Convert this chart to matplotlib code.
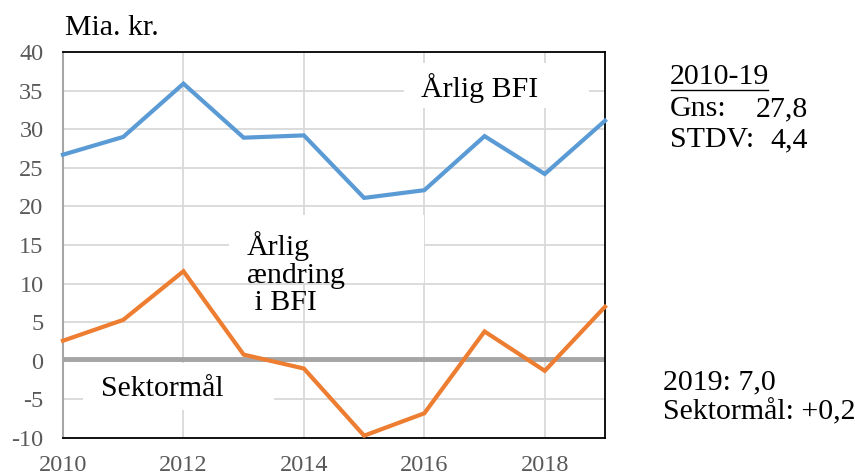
import matplotlib
matplotlib.use("Agg")
import matplotlib.pyplot as plt
from matplotlib.patches import Rectangle
from matplotlib.lines import Line2D

years = [2010, 2011, 2012, 2013, 2014, 2015, 2016, 2017, 2018, 2019]
bfi = [26.7, 29.0, 35.9, 28.9, 29.2, 21.1, 22.1, 29.1, 24.2, 31.1]
change = [2.6, 5.3, 11.6, 0.8, -1.0, -9.7, -6.8, 3.8, -1.3, 7.0]
target = 0.2
yticks = [-10, -5, 0, 5, 10, 15, 20, 25, 30, 35, 40]
xticks = [2010, 2012, 2014, 2016, 2018]

plt.rcParams['font.family'] = ['Liberation Serif', 'DejaVu Serif']
plt.rcParams['axes.unicode_minus'] = False

fig = plt.figure(figsize=(8.55, 4.76), dpi=100)
ax = fig.add_axes([63/855, 1-438/476, (605-63)/855, (438-52)/476])

ax.set_xlim(2010, 2019)
ax.set_ylim(-10, 40)
ax.set_yticks(yticks)
ax.set_xticks(xticks)
ax.set_axisbelow(True)
ax.grid(True, color='#D9D9D9', linewidth=1.3, zorder=0)
ax.tick_params(axis='both', length=0, labelsize=17.5, labelcolor='#595959')
ax.tick_params(axis='y', pad=14)
ax.tick_params(axis='x', pad=12)

for s in ['top', 'right', 'bottom']:
    ax.spines[s].set_color('black')
    ax.spines[s].set_linewidth(1.3)
ax.spines['left'].set_color('#A6A6A6')
ax.spines['left'].set_linewidth(1.5)

# white text boxes hiding gridlines
for (x0, y0, x1, y1) in [(2015.67, 32.75, 2018.73, 38.58),
                         (2012.75, 10.1, 2016.0, 18.9),
                         (2010.33, -6.4, 2013.5, -0.3)]:
    ax.add_patch(Rectangle((x0, y0), x1 - x0, y1 - y0, facecolor='white',
                           edgecolor='none', zorder=1))

ax.axhline(target, color='#A5A5A5', linewidth=3.5, zorder=2)
ax.plot(years, bfi, color='#5B9BD5', linewidth=3, zorder=3, clip_on=False,
        solid_joinstyle='miter')
ax.plot(years, change, color='#ED7D31', linewidth=3, zorder=3, clip_on=False,
        solid_joinstyle='miter')

fs = 21.5
ax.text(2016.92, 35.3, 'Årlig BFI', fontsize=fs, ha='center', va='center', zorder=4)
ax.text(2013.05, 11.3, 'Årlig\nændring\n i BFI', fontsize=fs, ha='left', va='center',
        linespacing=1.07, zorder=4)
ax.text(2011.65, -3.7, 'Sektormål', fontsize=fs, ha='center', va='center', zorder=4)

fig.text(65/855, 1-28/476, 'Mia. kr.', fontsize=fs, ha='left', va='center')

fig.text(670/855, 1-77/476, '2010-19', fontsize=fs, ha='left', va='center')
fig.add_artist(Line2D([671/855, 768/855], [1-90/476, 1-90/476], color='black',
                      linewidth=1.0))
fig.text(670/855, 1-109/476, 'Gns:', fontsize=fs, ha='left', va='center')
fig.text(808/855, 1-109/476, '27,8', fontsize=fs, ha='right', va='center')
fig.text(670/855, 1-140/476, 'STDV:', fontsize=fs, ha='left', va='center')
fig.text(808/855, 1-140/476, '4,4', fontsize=fs, ha='right', va='center')

fig.text(663/855, 1-382/476, '2019: 7,0', fontsize=fs, ha='left', va='center')
fig.text(663/855, 1-412/476, 'Sektormål: +0,2', fontsize=fs, ha='left', va='center')

fig.savefig('out.png', dpi=100)
